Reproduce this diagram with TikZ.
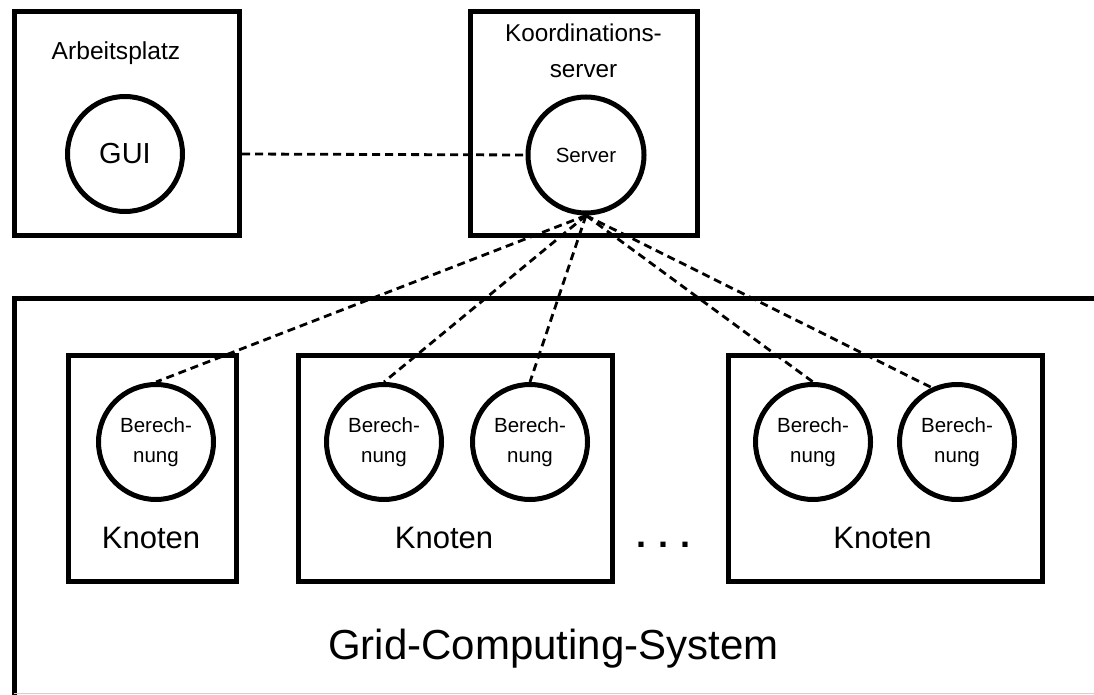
\documentclass[tikz,border=0pt]{standalone}
\usepackage{fontspec}
\setmainfont{Liberation Sans}
\tikzset{
  boxnode/.style={draw, line width=5pt, rectangle, inner sep=0pt},
  circnode/.style={draw, line width=5pt, circle, minimum size=115pt, inner sep=0pt, align=center},
  conn/.style={line width=2.8pt, dash pattern=on 8pt off 5pt},
  lbl/.style={inner sep=0pt, align=center}
}
\begin{document}
\begin{tikzpicture}[x=1pt,y=-1pt]
\useasboundingbox (0,0) rectangle (1094,695);
\clip (0,0) rectangle (1094,695);
% top boxes
\node[boxnode, minimum width=225pt, minimum height=223.5pt] (arb) at (127,123.25) {};
\node[boxnode, minimum width=227.5pt, minimum height=224pt] (koord) at (583.75,123.5) {};
\node[lbl, font=\fontsize{24.6}{30}\selectfont, anchor=base] (arbl) at (116,60) {Arbeitsplatz};
\node[lbl, font=\fontsize{24.3}{36.5}\selectfont] (koordl) at (583.5,51) {Koordinations-\\server};
\node[circnode, font=\fontsize{29}{34}\selectfont] (gui) at (125,154) {GUI};
\node[circnode, minimum size=116pt, font=\fontsize{20.5}{30}\selectfont] (srv) at (586,155) {Server};
% grid system
\draw[line width=5pt] (1100,298.5) -- (14,298.5) -- (14,700);
\draw[line width=1.2pt, gray!35] (14,693.5) -- (1100,693.5);
\node[lbl, font=\fontsize{42}{48}\selectfont, anchor=base] (grid) at (553.5,659) {Grid-Computing-System};
% Knoten boxes
\node[boxnode, minimum width=168pt, minimum height=226pt] (k1) at (152,468) {};
\node[boxnode, minimum width=314.5pt, minimum height=226pt] (k2) at (455.25,468) {};
\node[boxnode, minimum width=314.5pt, minimum height=226pt] (k3) at (885.25,468) {};
\node[lbl, font=\fontsize{31}{36}\selectfont, anchor=base] (k1l) at (151,548) {Knoten};
\node[lbl, font=\fontsize{31}{36}\selectfont, anchor=base] (k2l) at (444,548) {Knoten};
\node[lbl, font=\fontsize{31}{36}\selectfont, anchor=base] (k3l) at (882.5,548) {Knoten};
\node[lbl, font=\fontsize{36}{40}\selectfont\bfseries, anchor=base] (dots) at (663.5,547) {.\,\,.\,\,.};
% Berechnung circles
\node[circnode, font=\fontsize{20.5}{30}\selectfont] (b1) at (156,442) {Berech-\\nung};
\node[circnode, font=\fontsize{20.5}{30}\selectfont] (b2a) at (384,442) {Berech-\\nung};
\node[circnode, font=\fontsize{20.5}{30}\selectfont] (b2b) at (530,442) {Berech-\\nung};
\node[circnode, font=\fontsize{20.5}{30}\selectfont] (b3a) at (813,442) {Berech-\\nung};
\node[circnode, font=\fontsize{20.5}{30}\selectfont] (b3b) at (957,442) {Berech-\\nung};
% connectors
\draw[conn] (gui -| arb.east) -- (srv.west);
\draw[conn] (srv.south) -- (b1.north);
\draw[conn] (srv.south) -- (b2a.north);
\draw[conn] (srv.south) -- (b2b.north);
\draw[conn] (srv.south) -- (b3a.north);
\draw[conn] (srv.south) -- (b3b.115);
\end{tikzpicture}
\end{document}
